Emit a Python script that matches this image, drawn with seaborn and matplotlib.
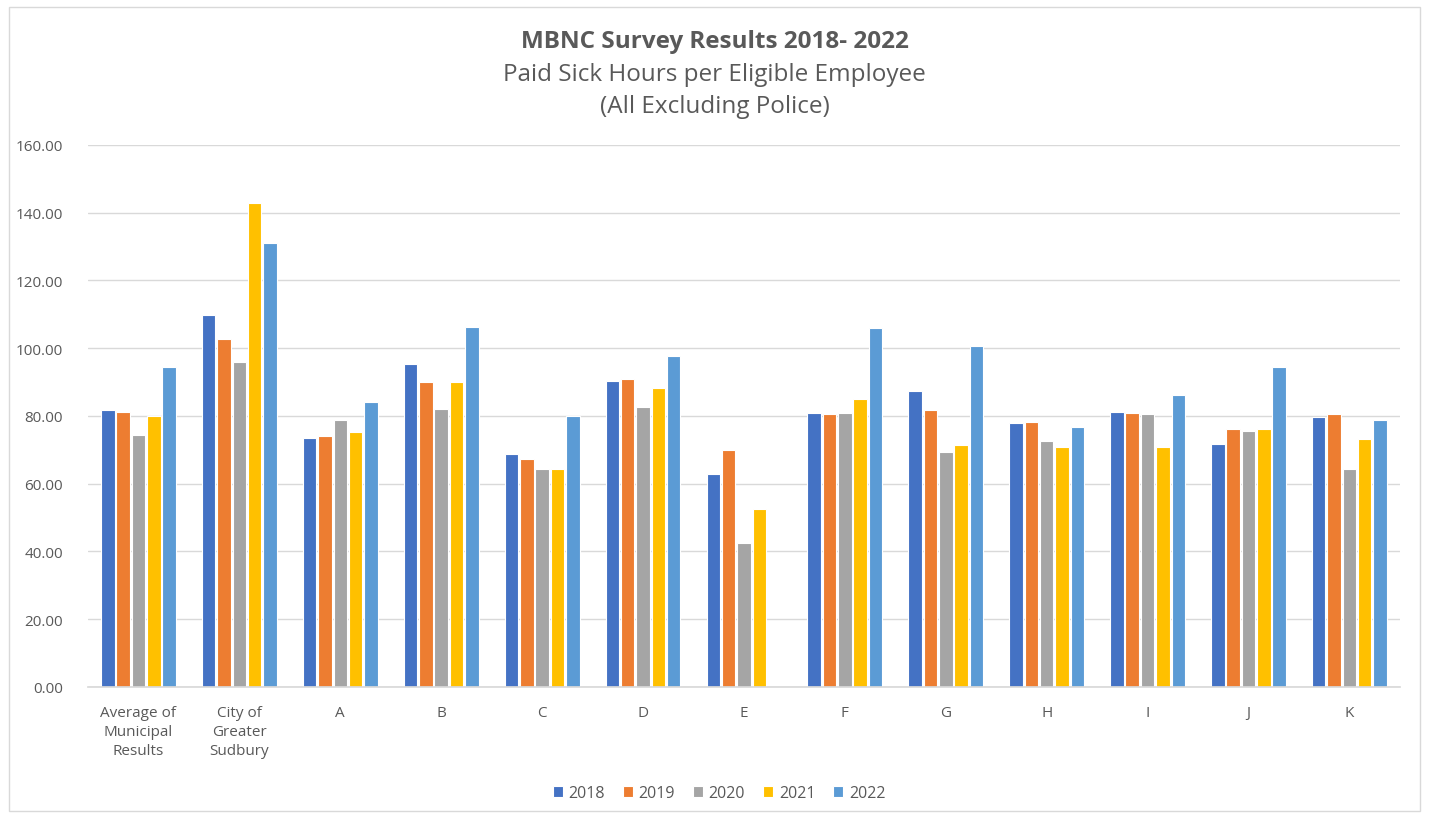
import matplotlib.pyplot as plt
import matplotlib.patches as mpatches
from matplotlib.ticker import FormatStrFormatter
import pandas as pd
import seaborn as sns

categories = ["Average of\nMunicipal\nResults", "City of\nGreater\nSudbury",
              "A", "B", "C", "D", "E", "F", "G", "H", "I", "J", "K"]
years = ["2018", "2019", "2020", "2021", "2022"]

v2018 = [81.8, 109.8, 73.5, 95.3, 68.7, 90.2, 63.0, 80.9, 87.5, 77.8, 81.3, 71.7, 79.7]
v2019 = [81.3, 102.8, 74.0, 90.1, 67.4, 91.0, 69.9, 80.5, 81.9, 78.2, 80.9, 76.2, 80.5]
v2020 = [74.4, 95.8, 78.7, 82.2, 64.3, 82.7, 42.5, 80.9, 69.5, 72.6, 80.5, 75.7, 64.3]
v2021 = [80.0, 143.0, 75.3, 90.1, 64.3, 88.4, 52.6, 84.9, 71.3, 70.8, 70.8, 76.2, 73.1]
v2022 = [94.4, 131.2, 84.0, 106.4, 80.0, 97.6, 0.0, 105.9, 100.6, 76.6, 86.1, 94.5, 78.8]

colors = ["#4472C4", "#ED7D31", "#A5A5A5", "#FFC000", "#5B9BD5"]

rows = []
for year, vals in zip(years, [v2018, v2019, v2020, v2021, v2022]):
    for cat, v in zip(categories, vals):
        rows.append({"Category": cat, "Year": year, "Hours": v})
df = pd.DataFrame(rows)

sns.set_theme(style="white")
plt.rcParams["font.family"] = ["Open Sans", "DejaVu Sans"]

fig = plt.figure(figsize=(14.29, 8.2), dpi=100)
ax = fig.add_axes([0.0616, 0.161, 0.918, 0.661])

sns.barplot(data=df, x="Category", y="Hours", hue="Year", order=categories,
            hue_order=years, palette=colors, width=0.76, gap=0.12,
            edgecolor="white", linewidth=0.8, saturation=1, ax=ax)

ax.set_ylim(0, 160)
ax.set_yticks(range(0, 161, 20))
ax.yaxis.set_major_formatter(FormatStrFormatter("%.2f"))
ax.grid(axis="y", color="#D9D9D9", linewidth=1)
ax.set_axisbelow(True)
for s in ["top", "right", "left"]:
    ax.spines[s].set_visible(False)
ax.spines["bottom"].set_color("#D9D9D9")
ax.set_xlabel("")
ax.set_ylabel("")
ax.tick_params(axis="both", colors="#595959", labelsize=11, length=0)
ax.tick_params(axis="y", pad=18)
ax.tick_params(axis="x", pad=13)
for lbl in ax.get_xticklabels():
    lbl.set_linespacing(1.35)

ax.legend(loc="upper center", bbox_to_anchor=(0.481, -0.155), ncol=5, frameon=False,
          fontsize=11.5, handlelength=0.65, handleheight=0.65, handletextpad=0.35,
          columnspacing=1.1, labelcolor="#595959")

fig.text(0.5, 0.949, "MBNC Survey Results 2018- 2022", ha="center", va="center",
         fontsize=17.5, fontweight="bold", color="#595959")
fig.text(0.5, 0.908, "Paid Sick Hours per Eligible Employee", ha="center", va="center",
         fontsize=17.5, color="#595959")
fig.text(0.5, 0.869, "(All Excluding Police)", ha="center", va="center",
         fontsize=17.5, color="#595959")

fig.patches.append(mpatches.Rectangle((0.006, 0.01), 0.988, 0.98, transform=fig.transFigure,
                                      fill=False, edgecolor="#D9D9D9", linewidth=1))

fig.savefig("out.png", dpi=100)
